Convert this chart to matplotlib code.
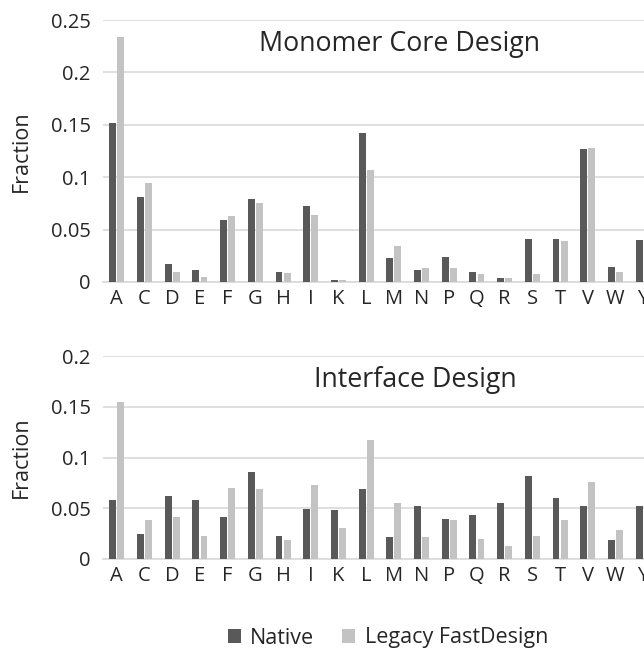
import matplotlib.pyplot as plt
import numpy as np
from matplotlib.patches import Patch

plt.rcParams['font.family'] = ['Open Sans', 'DejaVu Sans']

# amino acid categories
residues = ['A', 'C', 'D', 'E', 'F', 'G', 'H', 'I', 'K', 'L',
            'M', 'N', 'P', 'Q', 'R', 'S', 'T', 'V', 'W', 'Y']

# Monomer core design fractions
core_native = [0.152, 0.081, 0.017, 0.0115, 0.059, 0.079, 0.010, 0.0725, 0.002, 0.142,
               0.0226, 0.0115, 0.0236, 0.010, 0.0035, 0.041, 0.041, 0.1266, 0.014, 0.040]
core_legacy = [0.234, 0.0945, 0.010, 0.005, 0.063, 0.075, 0.009, 0.064, 0.002, 0.1066,
               0.0344, 0.013, 0.013, 0.0074, 0.0035, 0.0074, 0.0388, 0.128, 0.010, 0.036]

# Interface design fractions
iface_native = [0.0577, 0.0243, 0.062, 0.0577, 0.041, 0.0856, 0.0226, 0.049, 0.048, 0.0689,
                0.0213, 0.052, 0.039, 0.0436, 0.0548, 0.0813, 0.060, 0.052, 0.0187, 0.052]
iface_legacy = [0.155, 0.0384, 0.041, 0.0226, 0.070, 0.0689, 0.0187, 0.073, 0.031, 0.1177,
                0.0548, 0.0213, 0.038, 0.020, 0.0128, 0.0226, 0.038, 0.0757, 0.0285, 0.0436]

NATIVE_COLOR = '#595959'
LEGACY_COLOR = '#c3c3c3'
TEXT_COLOR = '#262626'
GRID_COLOR = '#d9d9d9'

W, H = 644, 652
fig = plt.figure(figsize=(W / 100, H / 100), dpi=100)


def px_axes(left, top, right, bottom):
    # pixel box -> figure fraction
    return fig.add_axes([left / W, (H - bottom) / H, (right - left) / W, (bottom - top) / H])


def draw_panel(ax, native, legacy, ymax, yticks, ylabels):
    x = np.arange(len(residues))
    width = 0.25
    ax.bar(x - 0.145, native, width, color=NATIVE_COLOR, zorder=3)
    ax.bar(x + 0.145, legacy, width, color=LEGACY_COLOR, zorder=3)
    ax.set_xlim(-0.5, len(residues) - 0.5)
    ax.set_ylim(0, ymax)
    ax.set_xticks(x)
    ax.set_xticklabels(residues)
    ax.set_yticks(yticks)
    ax.set_yticklabels(ylabels)
    ax.grid(axis='y', color=GRID_COLOR, linewidth=1.2, zorder=0)
    for side in ['top', 'right', 'left']:
        ax.spines[side].set_visible(False)
    ax.spines['bottom'].set_color(GRID_COLOR)
    ax.spines['bottom'].set_linewidth(1.2)
    ax.tick_params(axis='both', length=0, labelsize=14.5, colors=TEXT_COLOR)
    ax.tick_params(axis='x', pad=5)
    ax.tick_params(axis='y', pad=9)
    ax.set_ylabel('Fraction', fontsize=15.5, color=TEXT_COLOR)
    ax.yaxis.set_label_coords(-0.128, 0.5)


ax1 = px_axes(103, 20, 657, 282)
draw_panel(ax1, core_native, core_legacy, 0.25,
           [0, 0.05, 0.1, 0.15, 0.2, 0.25], ['0', '0.05', '0.1', '0.15', '0.2', '0.25'])

ax2 = px_axes(103, 356, 657, 559)
draw_panel(ax2, iface_native, iface_legacy, 0.2,
           [0, 0.05, 0.1, 0.15, 0.2], ['0', '0.05', '0.1', '0.15', '0.2'])

fig.text(400 / W, (H - 44) / H, 'Monomer Core Design', ha='center', va='center',
         fontsize=19.3, color=TEXT_COLOR)
fig.text(415 / W, (H - 380) / H, 'Interface Design', ha='center', va='center',
         fontsize=19.3, color=TEXT_COLOR)

handles = [Patch(facecolor=NATIVE_COLOR, label='Native'),
           Patch(facecolor=LEGACY_COLOR, label='Legacy FastDesign')]
fig.legend(handles=handles, loc='center', bbox_to_anchor=(388 / W, (H - 638) / H), ncol=2,
           frameon=False, fontsize=15.5, handlelength=0.6, handleheight=0.6,
           handletextpad=0.45, columnspacing=1.3, labelcolor=TEXT_COLOR)

fig.savefig('out.png', dpi=100)
